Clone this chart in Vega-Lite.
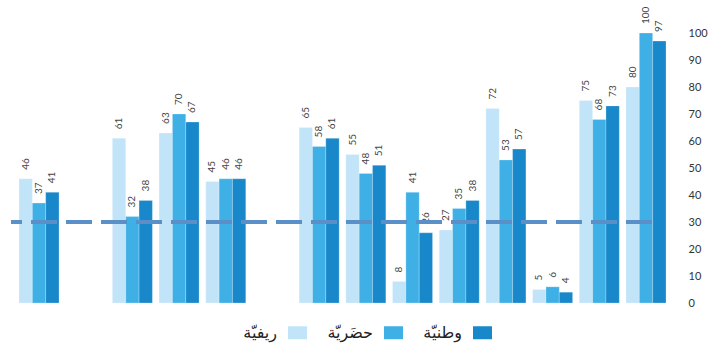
{
  "$schema": "https://vega.github.io/schema/vega-lite/v6.json",
  "width": 685,
  "height": 270,
  "autosize": {"type": "none"},
  "padding": {"left": 0, "top": 33, "right": 26, "bottom": 49},
  "background": "white",
  "config": {"view": {"stroke": null}, "font": "Lato"},
  "data": {"values": [
    {"slot": "s1", "series": "ريفيّة", "value": 46},
    {"slot": "s1", "series": "حضَريّة", "value": 37},
    {"slot": "s1", "series": "وطنيّة", "value": 41},
    {"slot": "s3", "series": "ريفيّة", "value": 61},
    {"slot": "s3", "series": "حضَريّة", "value": 32},
    {"slot": "s3", "series": "وطنيّة", "value": 38},
    {"slot": "s4", "series": "ريفيّة", "value": 63},
    {"slot": "s4", "series": "حضَريّة", "value": 70},
    {"slot": "s4", "series": "وطنيّة", "value": 67},
    {"slot": "s5", "series": "ريفيّة", "value": 45},
    {"slot": "s5", "series": "حضَريّة", "value": 46},
    {"slot": "s5", "series": "وطنيّة", "value": 46},
    {"slot": "s7", "series": "ريفيّة", "value": 65},
    {"slot": "s7", "series": "حضَريّة", "value": 58},
    {"slot": "s7", "series": "وطنيّة", "value": 61},
    {"slot": "s8", "series": "ريفيّة", "value": 55},
    {"slot": "s8", "series": "حضَريّة", "value": 48},
    {"slot": "s8", "series": "وطنيّة", "value": 51},
    {"slot": "s9", "series": "ريفيّة", "value": 8},
    {"slot": "s9", "series": "حضَريّة", "value": 41},
    {"slot": "s9", "series": "وطنيّة", "value": 26},
    {"slot": "s10", "series": "ريفيّة", "value": 27},
    {"slot": "s10", "series": "حضَريّة", "value": 35},
    {"slot": "s10", "series": "وطنيّة", "value": 38},
    {"slot": "s11", "series": "ريفيّة", "value": 72},
    {"slot": "s11", "series": "حضَريّة", "value": 53},
    {"slot": "s11", "series": "وطنيّة", "value": 57},
    {"slot": "s12", "series": "ريفيّة", "value": 5},
    {"slot": "s12", "series": "حضَريّة", "value": 6},
    {"slot": "s12", "series": "وطنيّة", "value": 4},
    {"slot": "s13", "series": "ريفيّة", "value": 75},
    {"slot": "s13", "series": "حضَريّة", "value": 68},
    {"slot": "s13", "series": "وطنيّة", "value": 73},
    {"slot": "s14", "series": "ريفيّة", "value": 80},
    {"slot": "s14", "series": "حضَريّة", "value": 100},
    {"slot": "s14", "series": "وطنيّة", "value": 97}
  ]},
  "encoding": {
    "x": {"field": "slot", "type": "nominal", "axis": null,
          "scale": {"domain": ["s1","s2","s3","s4","s5","s6","s7","s8","s9","s10","s11","s12","s13","s14"], "paddingInner": 0.143, "paddingOuter": 0.407}},
    "xOffset": {"field": "series", "type": "nominal",
                "scale": {"domain": ["ريفيّة", "حضَريّة", "وطنيّة"], "paddingInner": 0, "paddingOuter": 0}},
    "y": {"field": "value", "type": "quantitative",
          "scale": {"domain": [0, 100], "nice": false},
          "axis": {"orient": "right", "values": [0,10,20,30,40,50,60,70,80,90,100], "tickCount": 11, "labelOverlap": false, "domain": false, "ticks": false, "grid": false, "labelPadding": 3, "labelFontSize": 11, "labelColor": "#333333", "labelFont": "Lato", "title": null}}
  },
  "layer": [
    {
      "mark": {"type": "bar", "stroke": "white", "strokeWidth": 0.4, "strokeOpacity": 0.6},
      "encoding": {
        "color": {"field": "series", "type": "nominal",
                  "scale": {"domain": ["ريفيّة", "حضَريّة", "وطنيّة"], "range": ["#c2e4f8", "#3fb0e6", "#1888ca"]},
                  "legend": {"orient": "none", "legendX": 288, "legendY": 290, "direction": "horizontal", "title": null,
                             "symbolType": "M-1,-0.684H1V0.684H-1Z", "symbolSize": 361, "symbolStrokeWidth": 0,
                             "labelFont": "DejaVu Sans", "labelFontSize": 16, "labelColor": "#222222",
                             "labelAlign": "right", "labelOffset": -30, "columnPadding": 20}}
      }
    },
    {
      "mark": {"type": "text", "angle": 270, "align": "left", "baseline": "middle", "dx": 9, "fontSize": 10, "color": "#444444", "font": "Lato"},
      "encoding": {
        "text": {"field": "value", "type": "quantitative"}
      }
    },
    {
      "mark": {"type": "rule", "stroke": "#5b8fc8", "strokeWidth": 3, "strokeDash": [26, 9], "strokeDashOffset": 15},
      "encoding": {
        "x": {"datum": "s1", "type": "nominal", "bandPosition": -0.2},
        "x2": {"datum": "s14", "bandPosition": 0.69},
        "xOffset": null,
        "y": {"datum": 30, "type": "quantitative"}
      }
    }
  ]
}
